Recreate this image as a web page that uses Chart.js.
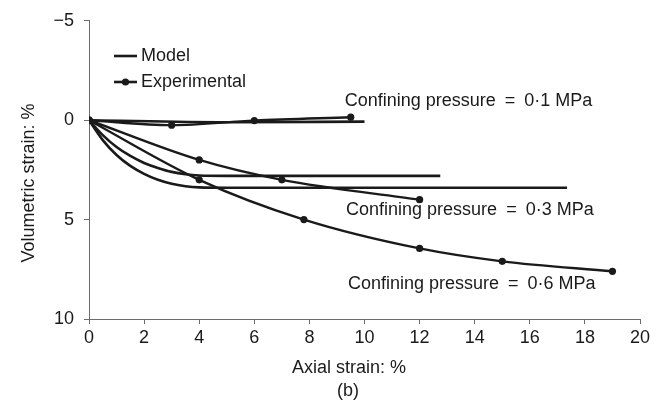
<!DOCTYPE html>
<html>
<head>
<meta charset="utf-8">
<title>Volumetric strain vs axial strain</title>
<script src="https://cdn.jsdelivr.net/npm/chart.js@4.4.1/dist/chart.umd.min.js"></script>
<style>
    html, body { margin: 0; padding: 0; background: #fff; }
    #wrap { width: 659px; height: 403px; }
</style>
</head>
<body>
<div id="wrap"><canvas id="strainChart" width="659" height="403"></canvas></div>
<script>
// Axis ticks
const xTicks = [0, 2, 4, 6, 8, 10, 12, 14, 16, 18, 20];
const yTicks = [-5, 0, 5, 10];

// Model curves (axial strain %, volumetric strain %)
const model01X = [0, 5, 10];
const model01Y = [0, 0.1, 0.07];
const model03X = [0, 0.5, 1, 1.5, 2, 2.5, 3, 3.5, 4, 5, 12.75];
const model03Y = [0, 0.75, 1.35, 1.8, 2.15, 2.4, 2.6, 2.72, 2.78, 2.8, 2.8];
const model06X = [0, 0.5, 1, 1.5, 2, 2.5, 3, 3.5, 4, 5, 17.35];
const model06Y = [0, 1.0, 1.75, 2.3, 2.7, 3.0, 3.2, 3.32, 3.38, 3.4, 3.4];

// Experimental points
const exp01X = [0, 3, 6, 9.5];
const exp01Y = [0, 0.25, 0.02, -0.15];
const exp03X = [0, 4, 7, 12];
const exp03Y = [0, 2, 3, 4];
const exp06X = [0, 4, 7.8, 12, 15, 19];
const exp06Y = [0, 3, 5, 6.45, 7.1, 7.6];

// Curve labels, placed in data units
const noteText = [
    'Confining pressure\u2002=\u20020·1 MPa',
    'Confining pressure\u2002=\u20020·3 MPa',
    'Confining pressure\u2002=\u20020·6 MPa'
];
const noteX = [9.28, 9.33, 9.4];
const noteY = [-0.98, 4.5, 8.23];

const FONT = '"Liberation Sans", Arial, Helvetica, sans-serif';
const INK = '#1a1a1a';

function toPoints(xs, ys) {
    return xs.map((x, i) => ({ x: x, y: ys[i] }));
}

function modelSet(xs, ys) {
    return {
        label: 'Model',
        data: toPoints(xs, ys),
        borderColor: INK,
        borderWidth: 2.6,
        pointRadius: 0,
        cubicInterpolationMode: 'monotone',
        fill: false
    };
}

function expSet(xs, ys) {
    return {
        label: 'Experimental',
        data: toPoints(xs, ys),
        borderColor: INK,
        backgroundColor: INK,
        borderWidth: 2.4,
        pointRadius: 3.6,
        pointBorderWidth: 0,
        cubicInterpolationMode: 'monotone',
        fill: false
    };
}

// Legend, curve notes and axis titles drawn straight onto the canvas
const extrasPlugin = {
    id: 'extras',
    afterDraw(chart) {
        const ctx = chart.ctx;
        const xs = chart.scales.x;
        const ys = chart.scales.y;
        const area = chart.chartArea;
        ctx.save();
        ctx.fillStyle = INK;
        ctx.strokeStyle = INK;
        ctx.font = '18px ' + FONT;
        ctx.textBaseline = 'middle';
        ctx.textAlign = 'left';

        // legend
        ctx.lineWidth = 2.6;
        ctx.beginPath();
        ctx.moveTo(114, 56);
        ctx.lineTo(137, 56);
        ctx.stroke();
        ctx.fillText('Model', 141, 56);
        ctx.beginPath();
        ctx.moveTo(114, 82);
        ctx.lineTo(137, 82);
        ctx.stroke();
        ctx.beginPath();
        ctx.arc(125.5, 82, 3.6, 0, Math.PI * 2);
        ctx.fill();
        ctx.fillText('Experimental', 141, 82);

        // curve notes
        noteText.forEach((t, i) => {
            ctx.fillText(t, xs.getPixelForValue(noteX[i]), ys.getPixelForValue(noteY[i]));
        });

        // axis titles
        ctx.textAlign = 'center';
        ctx.textBaseline = 'alphabetic';
        ctx.fillText('Axial strain: %', 349, 373);
        ctx.fillText('(b)', 348, 396);
        ctx.translate(33.5, (area.top + area.bottom) / 2 + 13);
        ctx.rotate(-Math.PI / 2);
        ctx.fillText('Volumetric strain: %', 0, 0);
        ctx.restore();
    }
};

const ctx = document.getElementById('strainChart').getContext('2d');
const strainChart = new Chart(ctx, {
    type: 'line',
    data: {
        datasets: [
            modelSet(model01X, model01Y),
            modelSet(model03X, model03Y),
            modelSet(model06X, model06Y),
            expSet(exp01X, exp01Y),
            expSet(exp03X, exp03Y),
            expSet(exp06X, exp06Y)
        ]
    },
    options: {
        responsive: false,
        animation: false,
        devicePixelRatio: 1,
        layout: { padding: { top: 20, right: 19, left: 0, bottom: 0 } },
        plugins: {
            legend: { display: false },
            tooltip: { enabled: false }
        },
        scales: {
            x: {
                type: 'linear',
                min: xTicks[0],
                max: xTicks[xTicks.length - 1],
                afterBuildTicks: (scale) => { scale.ticks = xTicks.map(v => ({ value: v })); },
                afterFit: (scale) => { scale.height = 84; },
                border: { display: true, color: '#6b6b6b', width: 1 },
                grid: { drawOnChartArea: false, drawTicks: true, tickLength: 5, color: '#6b6b6b' },
                ticks: { color: INK, padding: 3, maxRotation: 0, font: { family: FONT, size: 18 } }
            },
            y: {
                type: 'linear',
                reverse: true,
                min: yTicks[0],
                max: yTicks[yTicks.length - 1],
                afterBuildTicks: (scale) => { scale.ticks = yTicks.map(v => ({ value: v })); },
                afterFit: (scale) => { scale.width = 89; },
                border: { display: true, color: '#6b6b6b', width: 1 },
                grid: { drawOnChartArea: false, drawTicks: true, tickLength: 5, color: '#6b6b6b' },
                ticks: {
                    color: INK,
                    padding: 10,
                    font: { family: FONT, size: 18 },
                    callback: (v) => (v < 0 ? '\u2212' + Math.abs(v) : String(v))
                }
            }
        }
    },
    plugins: [extrasPlugin]
});
</script>
</body>
</html>
